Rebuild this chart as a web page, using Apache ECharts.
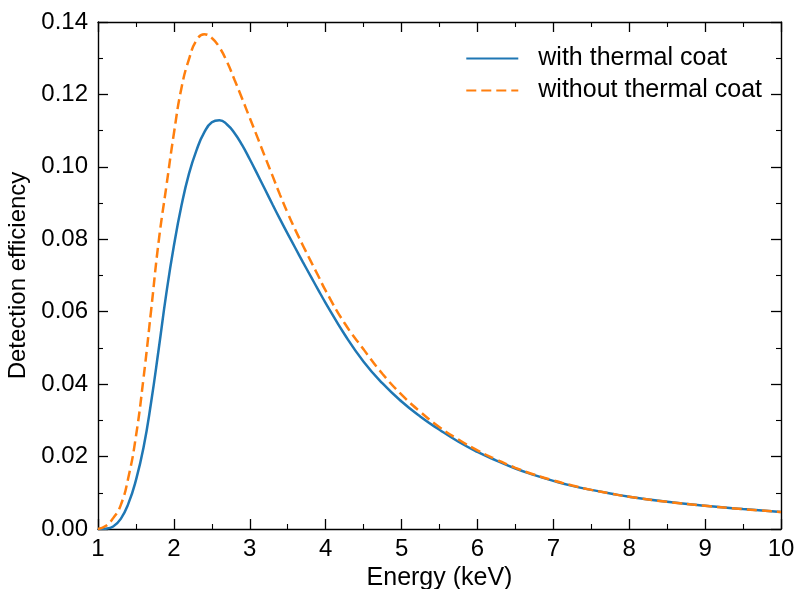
<!DOCTYPE html>
<html>
<head>
<meta charset="utf-8">
<script src="https://cdn.jsdelivr.net/npm/echarts@6/dist/echarts.min.js"></script>
<style>html,body{margin:0;padding:0;background:#fff}#c{width:796px;height:589px}</style>
</head>
<body>
<div id="c"></div>
<script>
// Data
const energyWith = [1.0,1.1,1.2,1.3,1.4,1.5,1.6,1.7,1.8,1.9,2.0,2.1,2.2,2.3,2.4,2.5,2.6,2.7,2.8,2.9,3.0,3.1,3.2,3.3,3.4,3.5,3.6,3.7,3.8,3.9,4.0,4.25,4.5,4.75,5.0,5.25,5.5,5.75,6.0,6.25,6.5,6.75,7.0,7.25,7.5,7.75,8.0,8.5,9.0,9.5,10.0];
const effWith = [0,0.0001,0.0007,0.0028,0.0070,0.0135,0.0225,0.0350,0.0497,0.0650,0.0782,0.0893,0.0982,0.1047,0.1095,0.1123,0.1129,0.1117,0.1093,0.1060,0.1021,0.0980,0.0938,0.0896,0.0855,0.0815,0.0776,0.0737,0.0699,0.0661,0.0624,0.0537,0.0462,0.0402,0.0352,0.0310,0.0274,0.0241,0.0213,0.0189,0.0167,0.0149,0.0133,0.0119,0.0108,0.0098,0.0089,0.0075,0.0064,0.0055,0.0047];

const energyWithout = [1.0,1.1,1.2,1.3,1.4,1.5,1.6,1.7,1.8,1.9,2.0,2.1,2.2,2.3,2.4,2.5,2.6,2.7,2.8,2.9,3.0,3.1,3.2,3.3,3.4,3.5,3.6,3.7,3.8,3.9,4.0,4.25,4.5,4.75,5.0,5.25,5.5,5.75,6.0,6.25,6.5,6.75,7.0,7.25,7.5,7.75,8.0,8.5,9.0,9.5,10.0];
const effWithout = [0,0.0008,0.0030,0.0066,0.0142,0.0256,0.0417,0.0604,0.0795,0.0945,0.1092,0.1218,0.1298,0.1350,0.1366,0.1356,0.1330,0.1290,0.1240,0.1188,0.1135,0.1082,0.1028,0.0975,0.0922,0.0872,0.0826,0.0783,0.0741,0.0700,0.0658,0.0568,0.0496,0.0428,0.0371,0.0323,0.0281,0.0247,0.0217,0.0192,0.0169,0.0150,0.0134,0.0120,0.0108,0.0098,0.0089,0.0075,0.0064,0.0055,0.0047];

const seriesNames = ['with thermal coat','without thermal coat'];
const colors = ['#1f77b4','#ff7f0e'];

const font = 'Liberation Sans, Arial, Helvetica, sans-serif';
const axisCommon = {
  axisLine:{show:true,onZero:false,lineStyle:{color:'#000',width:1.4}},
  axisTick:{show:true,inside:true,length:10,lineStyle:{color:'#000',width:1.3}},
  minorTick:{show:true,splitNumber:2,length:5,lineStyle:{color:'#000',width:1.1}},
  splitLine:{show:false}
};

const chart = echarts.init(document.getElementById('c'), null, {renderer:'canvas'});
chart.setOption({
  animation:false,
  backgroundColor:'#fff',
  grid:{left:98,right:15,top:22,bottom:60,containLabel:false,outerBoundsMode:'none'},
  legend:{
    right:29, top:41, orient:'vertical', itemWidth:52, itemHeight:14, itemGap:7,
    itemStyle:{opacity:0},
    textStyle:{fontFamily:font,fontSize:25,color:'#000',padding:[0,0,0,15]},
    data:seriesNames
  },
  xAxis:[
    Object.assign({type:'value',min:1,max:10,interval:1,name:'Energy (keV)',nameLocation:'middle',nameGap:37,
      nameTextStyle:{fontFamily:font,fontSize:25,color:'#000'},
      axisLabel:{fontFamily:font,fontSize:24,color:'#000',margin:8}}, axisCommon),
    Object.assign({type:'value',min:1,max:10,interval:1,position:'top',axisLabel:{show:false}}, axisCommon)
  ],
  yAxis:[
    Object.assign({type:'value',min:0,max:0.14,interval:0.02,name:'Detection efficiency',nameLocation:'middle',nameGap:62,
      nameTextStyle:{fontFamily:font,fontSize:24,color:'#000'},
      axisLabel:{fontFamily:font,fontSize:24,color:'#000',margin:10,formatter:v=>v.toFixed(2)}}, axisCommon),
    Object.assign({type:'value',min:0,max:0.14,interval:0.02,position:'right',axisLabel:{show:false}}, axisCommon)
  ],
  series:[
    {name:seriesNames[0],type:'line',xAxisIndex:0,yAxisIndex:0,showSymbol:false,symbol:'none',smooth:0.5,
     data:energyWith.map((x,i)=>[x,effWith[i]]),
     itemStyle:{color:colors[0]},lineStyle:{color:colors[0],width:2.5}},
    {name:seriesNames[1],type:'line',xAxisIndex:0,yAxisIndex:0,showSymbol:false,symbol:'none',smooth:0.5,
     data:energyWithout.map((x,i)=>[x,effWithout[i]]),
     itemStyle:{color:colors[1]},lineStyle:{color:colors[1],width:2.5,type:[10,5]}}
  ]
});
</script>
</body>
</html>
